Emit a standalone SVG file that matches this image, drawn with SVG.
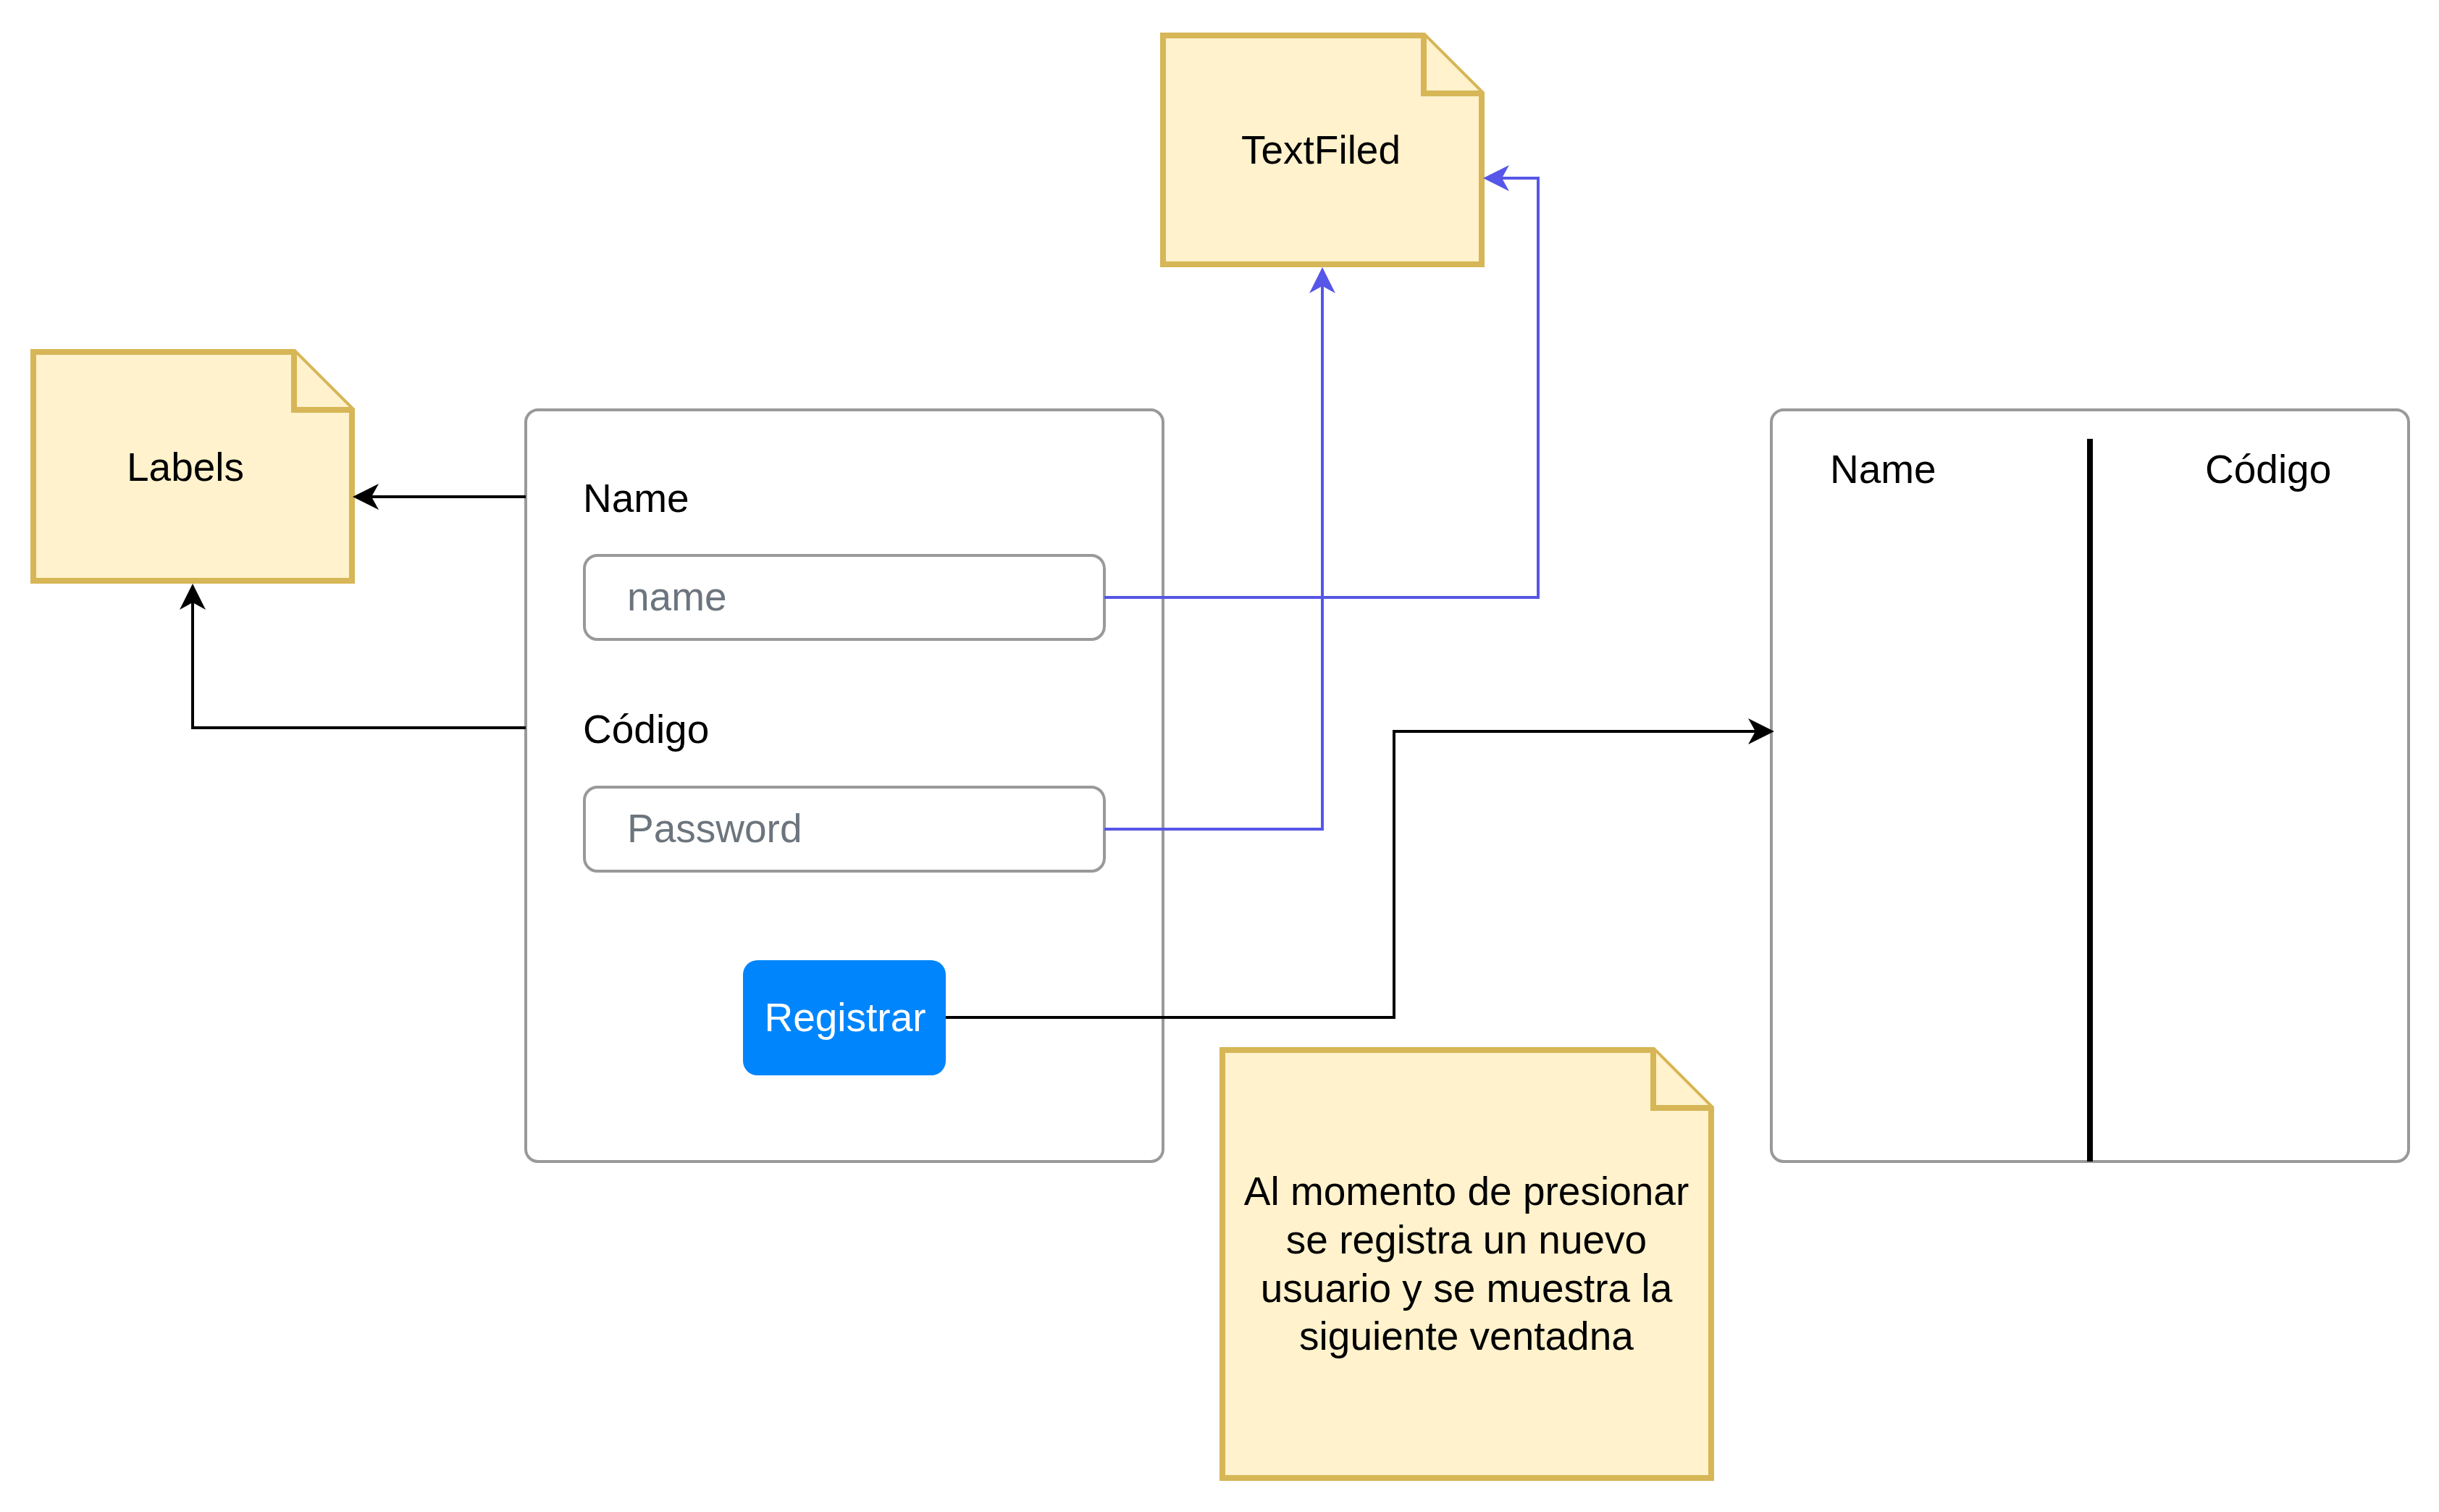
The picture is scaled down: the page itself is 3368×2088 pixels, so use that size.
<svg xmlns="http://www.w3.org/2000/svg" width="3368" height="2088" viewBox="0 0 3368 2088">
<style>
.note{fill:#fff2cc;stroke:#d6b656;stroke-width:8;stroke-linejoin:miter}
.panel{fill:#ffffff;stroke:#999999;stroke-width:4}
.t{font-family:"Liberation Sans",Arial,Helvetica,sans-serif;font-size:55px;fill:#000000}
.ph{fill:#6c757d}
.mid{text-anchor:middle}
.blk{fill:none;stroke:#000000;stroke-width:4}
.blu{fill:none;stroke:#5656e8;stroke-width:4}
</style>
<defs>
<marker id="ab" markerUnits="userSpaceOnUse" viewBox="0 0 36 36" markerWidth="36" markerHeight="36" refX="10" refY="18" orient="auto">
<path d="M0,0 L36,18 L0,36 L10,18 Z" fill="#000000"/>
</marker>
<marker id="au" markerUnits="userSpaceOnUse" viewBox="0 0 36 36" markerWidth="36" markerHeight="36" refX="10" refY="18" orient="auto">
<path d="M0,0 L36,18 L0,36 L10,18 Z" fill="#5656e8"/>
</marker>
</defs>
<rect width="3368" height="2088" fill="#ffffff"/>

<g id="labels-note">
<path class="note" d="M46,486 L406,486 L486,566 L486,802 L46,802 Z"/>
<path class="note" d="M406,486 L406,566 L486,566"/>
<text class="t mid" x="256" y="664">Labels</text>
</g>

<g id="textfiled-note">
<path class="note" d="M1606,49 L1966,49 L2046,129 L2046,365 L1606,365 Z"/>
<path class="note" d="M1966,49 L1966,129 L2046,129"/>
<text class="t mid" x="1824" y="226">TextFiled</text>
</g>

<g id="form-panel">
<rect class="panel" x="726" y="566" width="880" height="1038" rx="17" ry="17"/>
<text class="t" x="805" y="707">Name</text>
<text class="t" x="805" y="1026">Código</text>
</g>

<g id="name-input">
<rect class="panel" x="807" y="767" width="718" height="116" rx="18" ry="18"/>
<text class="t ph" x="866" y="843">name</text>
</g>

<g id="password-input">
<rect class="panel" x="807" y="1087" width="718" height="116" rx="18" ry="18"/>
<text class="t ph" x="866" y="1163">Password</text>
</g>

<g id="registrar-button">
<rect x="1026" y="1326" width="280" height="159" rx="20" ry="20" fill="#0085fc"/>
<text class="t mid" x="1167" y="1424" fill="#ffffff" style="fill:#ffffff">Registrar</text>
</g>

<g id="table-panel">
<rect class="panel" x="2446" y="566" width="880" height="1038" rx="17" ry="17"/>
<line x1="2886" y1="606" x2="2886" y2="1604" stroke="#000000" stroke-width="8"/>
<text class="t" x="2527" y="667">Name</text>
<text class="t" x="3045" y="667">Código</text>
</g>

<g id="info-note">
<path class="note" d="M1688,1450 L2283,1450 L2363,1530 L2363,2041 L1688,2041 Z"/>
<path class="note" d="M2283,1450 L2283,1530 L2363,1530"/>
<text class="t mid" x="2025" y="1664">Al momento de presionar</text>
<text class="t mid" x="2025" y="1731">se registra un nuevo</text>
<text class="t mid" x="2025" y="1798">usuario y se muestra la</text>
<text class="t mid" x="2025" y="1864">siguiente ventadna</text>
</g>

<g id="connectors">
<path class="blk" d="M726,686 L513,686" marker-end="url(#ab)"/>
<path class="blk" d="M726,1005 L266,1005 L266,832" marker-end="url(#ab)"/>
<path class="blu" d="M1525,825 L2124,825 L2124,246 L2074,246" marker-end="url(#au)"/>
<path class="blu" d="M1525,1145 L1826,1145 L1826,395" marker-end="url(#au)"/>
<path class="blk" d="M1306,1405 L1925,1405 L1925,1010 L2424,1010" marker-end="url(#ab)"/>
</g>
</svg>
